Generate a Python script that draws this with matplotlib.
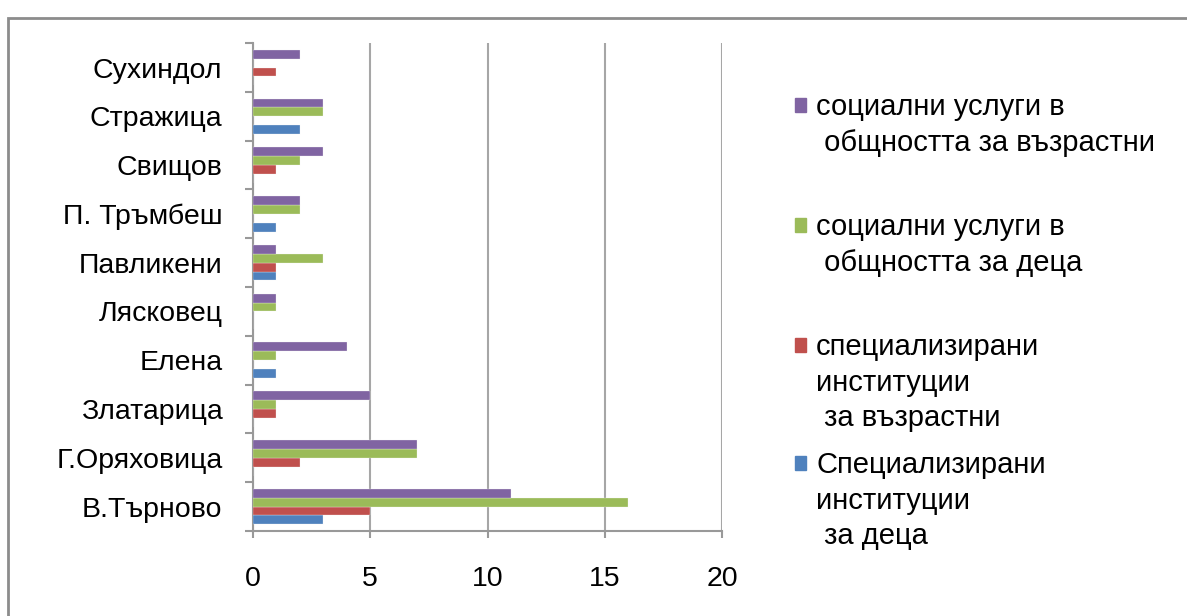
import matplotlib.pyplot as plt
from matplotlib.patches import Rectangle
import numpy as np

# общини (отдолу нагоре)
towns = ["В.Търново", "Г.Оряховица", "Златарица", "Елена", "Лясковец",
         "Павликени", "П. Тръмбеш", "Свищов", "Стражица", "Сухиндол"]

spec_deca = [3, 0, 0, 1, 0, 1, 1, 0, 2, 0]
spec_vazr = [5, 2, 1, 0, 0, 1, 0, 1, 0, 1]
obsht_deca = [16, 7, 1, 1, 1, 3, 2, 2, 3, 0]
obsht_vazr = [11, 7, 5, 4, 1, 1, 2, 3, 3, 2]

labels = ["Специализирани\nинституции\n за деца",
          "специализирани\nинституции\n за възрастни",
          "социални услуги в\n общността за деца",
          "социални услуги в\n общността за възрастни"]
colors = ["#4F81BD", "#C0504D", "#9BBB59", "#8064A2"]

plt.rcParams['font.family'] = ['Liberation Sans', 'DejaVu Sans']

fig = plt.figure(figsize=(11.87, 6.16), dpi=100)
ax = fig.add_axes([0.2131, 0.138, 0.3952, 0.792])

series = [spec_deca, spec_vazr, obsht_deca, obsht_vazr]
y = np.arange(len(towns))
h = 0.182
for i, vals in enumerate(series):
    off = (i - 1.5) * h
    ax.barh(y + off, vals, height=h, color=colors[i], edgecolor='#f4f4f4',
            linewidth=0.2, zorder=3)

ax.set_xlim(0, 20)
ax.set_ylim(-0.5, len(towns) - 0.5)
ax.set_xticks([0, 5, 10, 15, 20])
ax.set_yticks(y)
ax.set_yticklabels(towns)
ax.set_yticks(np.arange(-0.5, len(towns), 1), minor=True)
ax.tick_params(axis='y', which='major', length=0, pad=22, labelsize=20.5)
ax.tick_params(axis='y', which='minor', length=6, width=1.5, color='#999999')
ax.tick_params(axis='x', length=5, width=1.5, color='#999999', pad=20, labelsize=20.5)
ax.grid(axis='x', color='#a6a6a6', linewidth=1.5, zorder=0)
for s in ['top', 'right']:
    ax.spines[s].set_visible(False)
for s in ['left', 'bottom']:
    ax.spines[s].set_color('#999999')
    ax.spines[s].set_linewidth(1.5)

# легенда (Excel стил)
tops = [463, 345, 225, 105]
for i in range(4):
    yy = 1 - tops[i] / 616
    fig.patches.append(Rectangle((795 / 1187, yy - 7 / 616), 11 / 1187, 14 / 616,
                                 transform=fig.transFigure, color=colors[i]))
    fig.text(816 / 1187, yy + 12 / 616, labels[i], fontsize=21, va='top',
             linespacing=1.35)

# рамка
fig.patches.append(Rectangle((8 / 1187, -0.1), 1.2, 1 - 18 / 616 + 0.1,
                             transform=fig.transFigure, fill=False,
                             edgecolor='#8c8c8c', linewidth=2))

fig.savefig("out.png", dpi=100)
